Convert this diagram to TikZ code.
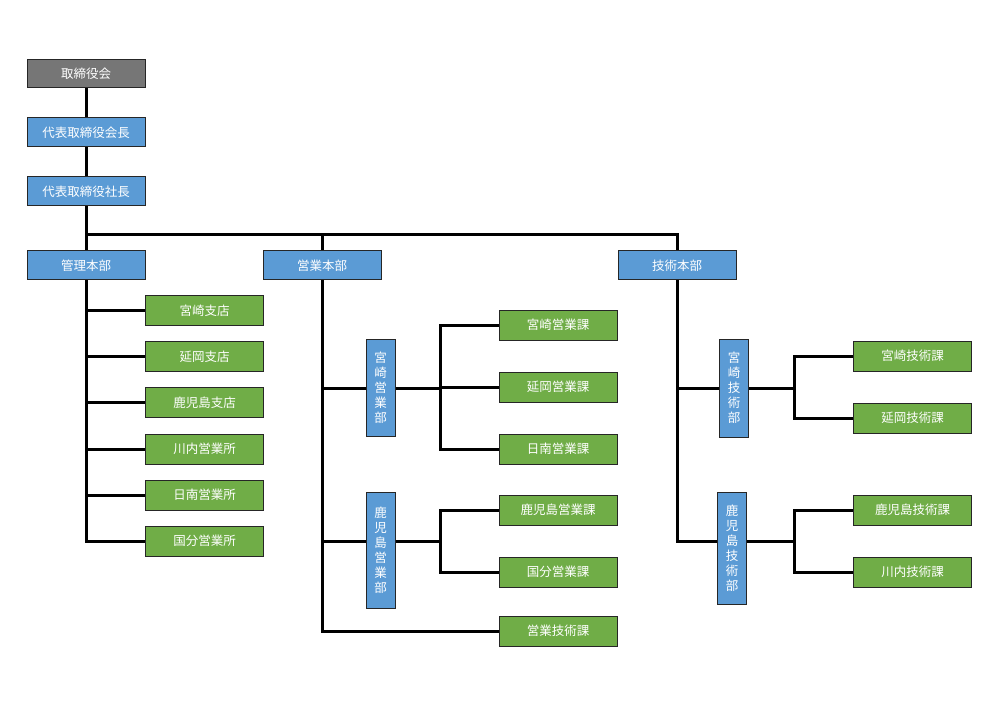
\documentclass[tikz,border=0pt]{standalone}
\usepackage{fontspec}
\newfontfamily\jpfont{Noto Sans CJK JP}
\usetikzlibrary{positioning}

\definecolor{boardgray}{HTML}{767676}
\definecolor{deptblue}{HTML}{5B9BD5}
\definecolor{secgreen}{HTML}{70AD47}

\tikzset{
  box/.style={draw=black!85, line width=1pt, text=white, inner sep=0pt,
    font=\jpfont\fontsize{12.5}{15}\selectfont},
  board/.style={box, fill=boardgray, minimum width=118pt, minimum height=28pt},
  honbu/.style={box, fill=deptblue, minimum width=118pt, minimum height=29pt},
  bu/.style={box, fill=deptblue, text width=29pt, align=center, minimum height=#1},
  ka/.style={box, fill=secgreen, minimum width=118pt, minimum height=30pt},
  link/.style={line width=3pt},
}

\begin{document}
\begin{tikzpicture}[x=1pt, y=-1pt]
    \useasboundingbox (0,0) rectangle (1000,708);

    % top
    \node[board] (board) at (86,74) {取締役会};
    \node[honbu] (kaicho) at (86,132.5) {代表取締役会長};
    \node[honbu] (shacho) at (86,191.5) {代表取締役社長};

    % head offices
    \node[honbu] (kanri) at (86,265.5) {管理本部};
    \node[honbu] (eigyo) at (322,265.5) {営業本部};
    \node[honbu] (gijutsu) at (677,265.5) {技術本部};

    % kanri
    \node[ka] (miyazakiS) at (204.5,310.5) {宮崎支店};
    \node[ka] (nobeokaS) at (204.5,356.5) {延岡支店};
    \node[ka] (kagoshimaS) at (204.5,402.5) {鹿児島支店};
    \node[ka] (sendaiE) at (204.5,449) {川内営業所};
    \node[ka] (nichinanE) at (204.5,495) {日南営業所};
    \node[ka] (kokubuE) at (204.5,541) {国分営業所};

    % eigyo
    \node[bu=97pt] (miyazakiEB) at (380.5,388) {宮\\崎\\営\\業\\部};
    \node[bu=116pt] (kagoshimaEB) at (380.5,550) {鹿\\児\\島\\営\\業\\部};
    \node[ka] (miyazakiEK) at (558,325) {宮崎営業課};
    \node[ka] (nobeokaEK) at (558,387) {延岡営業課};
    \node[ka] (nichinanEK) at (558,449) {日南営業課};
    \node[ka] (kagoshimaEK) at (558,510) {鹿児島営業課};
    \node[ka] (kokubuEK) at (558,572) {国分営業課};
    \node[ka] (eigyoGK) at (558,631) {営業技術課};

    % gijutsu
    \node[bu=98pt] (miyazakiGB) at (734,388) {宮\\崎\\技\\術\\部};
    \node[bu=112pt] (kagoshimaGB) at (732,548) {鹿\\児\\島\\技\\術\\部};
    \node[ka] (miyazakiGK) at (912.5,356) {宮崎技術課};
    \node[ka] (nobeokaGK) at (912.5,418) {延岡技術課};
    \node[ka] (kagoshimaGK) at (912.5,510) {鹿児島技術課};
    \node[ka] (sendaiGK) at (912.5,572) {川内技術課};

    \coordinate (bus) at (86,235);
    \coordinate (ej1) at (440,388);
    \coordinate (ej2) at (440,541);
    \coordinate (gj1) at (794,388);
    \coordinate (gj2) at (794,541);

    \draw[link] (board) -- (kaicho);
    \draw[link] (kaicho) -- (shacho);
    \draw[link] (shacho) -- (kanri);
    \draw[link] (bus) -| (eigyo.north);
    \draw[link] (bus) -| (gijutsu.north);

    \draw[link] (kanri.south) |- (miyazakiS.west);
    \draw[link] (kanri.south) |- (nobeokaS.west);
    \draw[link] (kanri.south) |- (kagoshimaS.west);
    \draw[link] (kanri.south) |- (sendaiE.west);
    \draw[link] (kanri.south) |- (nichinanE.west);
    \draw[link] (kanri.south) |- (kokubuE.west);

    \draw[link] (eigyo.south) |- (miyazakiEB.west);
    \draw[link] (eigyo.south) |- ([yshift=9pt]kagoshimaEB.west);
    \draw[link] (eigyo.south) |- (eigyoGK.west);
    \draw[link] (miyazakiEB.east) -- (ej1);
    \draw[link] (ej1) |- (miyazakiEK.west);
    \draw[link] (ej1) |- (nobeokaEK.west);
    \draw[link] (ej1) |- (nichinanEK.west);
    \draw[link] ([yshift=9pt]kagoshimaEB.east) -- (ej2);
    \draw[link] (ej2) |- (kagoshimaEK.west);
    \draw[link] (ej2) |- (kokubuEK.west);

    \draw[link] (gijutsu.south) |- (miyazakiGB.west);
    \draw[link] (gijutsu.south) |- ([yshift=7pt]kagoshimaGB.west);
    \draw[link] (miyazakiGB.east) -- (gj1);
    \draw[link] (gj1) |- (miyazakiGK.west);
    \draw[link] (gj1) |- (nobeokaGK.west);
    \draw[link] ([yshift=7pt]kagoshimaGB.east) -- (gj2);
    \draw[link] (gj2) |- (kagoshimaGK.west);
    \draw[link] (gj2) |- (sendaiGK.west);
\end{tikzpicture}
\end{document}
